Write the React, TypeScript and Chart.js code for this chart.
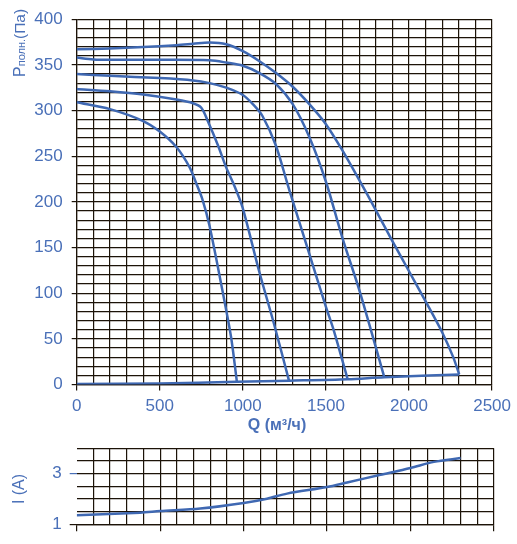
import React, { useEffect, useRef } from "react";
import { Chart, registerables } from "chart.js";

Chart.register(...registerables);

const FONT = "'Liberation Sans', Arial, Helvetica, sans-serif";
const LINE = "#3f68b2";
const TEXT = "#4a70b8";
const GRID = "#1c1308";

// Upper chart: pressure curves (Q in m³/h, P in Pa)
const c1Q = [0, 200, 400, 600, 700, 800, 900, 1000, 1100, 1200, 1300, 1400, 1500, 1600, 1700, 1800, 1900, 2000, 2100, 2200, 2266, 2302];
const c1P = [367, 368, 369.5, 371.5, 373, 374.5, 372.5, 365, 354, 341, 326, 307, 285, 256, 224, 191, 157, 124, 91, 57, 30, 11];

const c2Q = [0, 100, 200, 500, 800, 900, 1000, 1100, 1200, 1300, 1400, 1500, 1600, 1700, 1800, 1851];
const c2P = [358, 356, 355.5, 355.5, 355, 352.5, 349, 341, 329, 307, 271, 222, 160, 104, 41, 8];

const c3Q = [0, 200, 500, 700, 800, 900, 1000, 1060, 1118, 1198, 1268, 1300, 1400, 1500, 1548, 1631];
const c3P = [340, 338, 335.5, 333, 330, 325, 317, 307, 294, 262, 220, 201, 143, 85, 58.7, 5.5];

const c4Q = [0, 200, 400, 600, 700, 750, 790, 850, 899, 948, 998, 1098, 1188, 1278];
const c4P = [323.5, 321, 317.5, 312, 308, 303, 288, 262, 238, 218, 194, 124, 66, 4];

const c5Q = [0, 200, 400, 500, 600, 679, 720, 758, 799, 878, 929, 964];
const c5P = [309, 301.5, 288.5, 277, 260, 238, 220, 202, 174, 102, 52, 3];

const sysQ = [0, 500, 964, 1278, 1631, 1851, 2302];
const sysP = [0.5, 1.2, 3, 4.2, 5.8, 8, 11];

// Lower chart: current (A)
const curQ = [0, 380, 500, 740, 1000, 1140, 1260, 1500, 1620, 1820, 2000, 2140, 2300];
const curI = [1.36, 1.46, 1.52, 1.62, 1.84, 2.01, 2.21, 2.47, 2.65, 2.95, 3.22, 3.46, 3.61];

const Q_LABELS = [0, 500, 1000, 1500, 2000, 2500];
const P_LABELS = [0, 50, 100, 150, 200, 250, 300, 350, 400];
const I_LABELS = [1, 3];

const pts = (xs: number[], ys: number[]) => xs.map((x, i) => ({ x, y: ys[i] }));

const ds = (xs: number[], ys: number[]) => ({
  data: pts(xs, ys),
  borderColor: LINE,
  borderWidth: 2.5,
  pointRadius: 0,
  fill: false,
  tension: 0.3,
});

const upperTitles = {
  id: "upperTitles",
  afterDraw(chart: any) {
    const ctx = chart.ctx;
    ctx.save();
    ctx.fillStyle = TEXT;
    ctx.font = `bold 16px ${FONT}`;
    ctx.textAlign = "center";
    ctx.textBaseline = "middle";
    ctx.fillText("Q (м³/ч)", 277, 426);
    ctx.translate(24.5, 77);
    ctx.rotate(-Math.PI / 2);
    ctx.textAlign = "left";
    ctx.textBaseline = "alphabetic";
    let x = 0;
    ctx.font = `16px ${FONT}`;
    ctx.fillText("P", x, 0);
    x += ctx.measureText("P").width;
    ctx.font = `11px ${FONT}`;
    ctx.fillText("полн.", x, 0);
    x += ctx.measureText("полн.").width;
    ctx.font = `15.5px ${FONT}`;
    ctx.fillText("(Па)", x, 0);
    ctx.restore();
  },
};

const lowerTitles = {
  id: "lowerTitles",
  afterDraw(chart: any) {
    const ctx = chart.ctx;
    ctx.save();
    ctx.fillStyle = TEXT;
    ctx.font = `16px ${FONT}`;
    ctx.translate(19.5, 59);
    ctx.rotate(-Math.PI / 2);
    ctx.textAlign = "center";
    ctx.textBaseline = "middle";
    ctx.fillText("I (A)", 0, 0);
    ctx.restore();
  },
};

export default function App() {
  const topRef = useRef<HTMLCanvasElement>(null);
  const botRef = useRef<HTMLCanvasElement>(null);

  useEffect(() => {
    const tickFont = { family: FONT, size: 17 };
    const top = new Chart(topRef.current!, {
      type: "line",
      data: {
        datasets: [
          ds(c1Q, c1P),
          ds(c2Q, c2P),
          ds(c3Q, c3P),
          ds(c4Q, c4P),
          ds(c5Q, c5P),
          ds(sysQ, sysP),
        ],
      },
      options: {
        animation: false,
        responsive: false,
        layout: { padding: { top: 12.7, right: 23, left: 0, bottom: 0 } },
        plugins: { legend: { display: false }, tooltip: { enabled: false } },
        scales: {
          x: {
            type: "linear",
            min: 0,
            max: 2500,
            afterFit: (s: any) => {
              s.height = 55.5;
            },
            ticks: {
              stepSize: 100,
              autoSkip: false,
              maxRotation: 0,
              color: TEXT,
              font: tickFont,
              padding: 6,
              callback: (v: any) => (Q_LABELS.includes(Number(v)) ? String(v) : ""),
            },
            grid: {
              color: GRID,
              lineWidth: 1.2,
              tickLength: 6,
              tickColor: (c: any) => (c.tick && Q_LABELS.includes(c.tick.value) ? GRID : "transparent"),
            },
            border: { color: GRID, width: 1.2 },
          },
          y: {
            type: "linear",
            min: 0,
            max: 400,
            afterFit: (s: any) => {
              s.width = 76.7;
            },
            ticks: {
              stepSize: 10,
              autoSkip: false,
              color: TEXT,
              font: tickFont,
              padding: 9,
              callback: (v: any) => (P_LABELS.includes(Number(v)) ? String(v) : ""),
            },
            grid: {
              color: GRID,
              lineWidth: 1.2,
              tickLength: 5,
              tickColor: (c: any) => (c.tick && P_LABELS.includes(c.tick.value) ? GRID : "transparent"),
            },
            border: { color: GRID, width: 1.2 },
          },
        },
      },
      plugins: [upperTitles],
    } as any);

    const bot = new Chart(botRef.current!, {
      type: "line",
      data: { datasets: [ds(curQ, curI)] },
      options: {
        animation: false,
        responsive: false,
        layout: { padding: { top: 11, right: 23, left: 0, bottom: 0 } },
        plugins: { legend: { display: false }, tooltip: { enabled: false } },
        scales: {
          x: {
            type: "linear",
            min: 0,
            max: 2500,
            afterFit: (s: any) => {
              s.height = 19.7;
            },
            ticks: { stepSize: 100, autoSkip: false, display: false },
            grid: {
              color: (c: any) => (c.tick && c.tick.value === 0 ? "transparent" : GRID),
              lineWidth: 1.2,
              tickLength: 7,
              tickColor: (c: any) => (c.tick && Q_LABELS.includes(c.tick.value) ? GRID : "transparent"),
            },
            border: { color: GRID, width: 1.2 },
          },
          y: {
            type: "linear",
            min: 1,
            max: 4,
            afterFit: (s: any) => {
              s.width = 76.7;
            },
            ticks: {
              stepSize: 0.5,
              autoSkip: false,
              color: TEXT,
              font: tickFont,
              padding: 8,
              callback: (v: any) => (I_LABELS.includes(Number(v)) ? String(v) : ""),
            },
            grid: {
              color: GRID,
              lineWidth: 1.2,
              tickLength: 7,
              tickColor: (c: any) =>
                c.tick && c.tick.value === 3 ? TEXT : c.tick && c.tick.value === 1 ? GRID : "transparent",
            },
            border: { display: false },
          },
        },
      },
      plugins: [lowerTitles],
    } as any);

    return () => {
      top.destroy();
      bot.destroy();
    };
  }, []);

  return (
    <div style={{ position: "absolute", left: 0, top: 0, width: 517, height: 544, background: "#ffffff" }}>
      <canvas
        ref={topRef}
        width={517}
        height={440}
        style={{ position: "absolute", left: 0, top: 0, width: 517, height: 440 }}
      />
      <canvas
        ref={botRef}
        width={517}
        height={114}
        style={{ position: "absolute", left: 0, top: 430, width: 517, height: 114 }}
      />
    </div>
  );
}
